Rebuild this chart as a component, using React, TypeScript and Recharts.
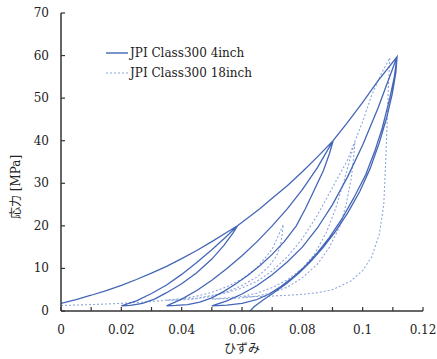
import React from 'react';
import { LineChart, Line, XAxis, YAxis, Legend } from 'recharts';

type Pt = [number, number];

// ---- tick values / labels ----
const xTicks = [0, 0.01, 0.02, 0.03, 0.04, 0.05, 0.06, 0.07, 0.08, 0.09, 0.1, 0.11, 0.12];
const xTickLabels = ['0', '', '0.02', '', '0.04', '', '0.06', '', '0.08', '', '0.1', '', '0.12'];
const yTicks = [0, 10, 20, 30, 40, 50, 60, 70];
const xTitle = 'ひずみ';
const yTitle = '応力 [MPa]';
const seriesNames = ['JPI Class300 4inch', 'JPI Class300 18inch'];

// ---- JPI Class300 4inch (strain, stress) branches ----
const s4Load20: Pt[] = [[0, 1.8], [0.005, 2.7], [0.01, 3.7], [0.015, 4.8], [0.02, 6.0], [0.025, 7.4], [0.03, 8.9], [0.035, 10.5], [0.04, 12.3], [0.045, 14.2], [0.05, 16.3], [0.055, 18.5], [0.0585, 20]];
const s4Unload20: Pt[] = [[0.057, 18.3], [0.054, 15.4], [0.05, 12.2], [0.045, 9.0], [0.04, 6.4], [0.035, 4.3], [0.031, 2.8], [0.027, 1.8], [0.023, 1.3], [0.02, 1.2]];
const s4Reload20: Pt[] = [[0.025, 2.4], [0.03, 4.1], [0.035, 6.1], [0.04, 8.6], [0.045, 11.4], [0.05, 14.4], [0.055, 17.6], [0.0585, 20]];
const s4Load40: Pt[] = [[0.062, 21.9], [0.066, 24.1], [0.07, 26.5], [0.075, 29.4], [0.08, 32.7], [0.085, 36.2], [0.0902, 40]];
const s4Unload40: Pt[] = [[0.089, 37], [0.087, 33], [0.084, 28.5], [0.081, 24], [0.078, 20], [0.074, 16.3], [0.07, 13.3], [0.066, 10.7], [0.062, 8.4], [0.058, 6.4], [0.054, 4.6], [0.05, 3.1], [0.046, 2.1], [0.042, 1.5], [0.038, 1.3], [0.035, 1.2]];
const s4Reload40: Pt[] = [[0.04, 2.8], [0.045, 4.8], [0.05, 7.2], [0.055, 10], [0.06, 13], [0.065, 16.3], [0.07, 20], [0.075, 24], [0.08, 28.5], [0.085, 33.7], [0.0902, 40]];
const s4Load60: Pt[] = [[0.095, 44.3], [0.1, 49], [0.105, 54], [0.1114, 59.7]];
const s4Unload60a: Pt[] = [[0.1105, 55], [0.109, 50], [0.1065, 43], [0.104, 37.5], [0.101, 32], [0.097, 26.5], [0.093, 21.5], [0.089, 17.3], [0.085, 13.7], [0.081, 10.6], [0.077, 8], [0.073, 5.8], [0.069, 4], [0.065, 2.7], [0.06, 1.8], [0.055, 1.4], [0.05, 1.2]];
const s4Reload60: Pt[] = [[0.055, 2.4], [0.06, 4], [0.065, 6], [0.07, 8.5], [0.075, 11.5], [0.08, 15], [0.085, 19.5], [0.09, 25], [0.095, 31.5], [0.1, 39], [0.105, 47.5], [0.1114, 59.7]];
const s4Unload60b: Pt[] = [[0.111, 56], [0.1098, 51], [0.108, 45.5], [0.1055, 39.5], [0.1025, 33.5], [0.099, 28], [0.095, 23], [0.091, 18.7], [0.087, 15], [0.083, 11.8], [0.079, 9], [0.075, 6.6], [0.071, 4.5], [0.067, 2.6], [0.064, 1], [0.0627, 0]];

// ---- JPI Class300 18inch (strain, stress) branches ----
const s18Load20: Pt[] = [[0, 1.3], [0.01, 1.5], [0.02, 1.8], [0.03, 2.2], [0.04, 2.9], [0.045, 3.5], [0.05, 4.4], [0.055, 5.7], [0.06, 7.5], [0.065, 10.2], [0.07, 14.5], [0.0737, 20.3]];
const s18Unload20: Pt[] = [[0.0733, 18], [0.0728, 15.5], [0.0715, 13], [0.069, 10.5], [0.065, 8], [0.06, 6], [0.055, 4.5], [0.05, 3.5], [0.045, 2.9], [0.04, 2.6], [0.035, 2.5]];
const s18Load40: Pt[] = [[0.045, 3.0], [0.055, 4.3], [0.06, 5.4], [0.065, 7.0], [0.07, 9.4], [0.075, 12.7], [0.08, 17], [0.085, 22.5], [0.09, 29], [0.095, 35.5], [0.0975, 40]];
const s18Unload40: Pt[] = [[0.097, 36], [0.0962, 31], [0.0945, 25], [0.0925, 20], [0.089, 15], [0.085, 11], [0.08, 7.8], [0.075, 5.6], [0.07, 4.3], [0.065, 3.5], [0.06, 3.1], [0.055, 2.9], [0.05, 2.8]];
const s18Reload40: Pt[] = [[0.06, 3.4], [0.065, 4.2], [0.07, 5.5], [0.075, 7.3], [0.08, 10], [0.084, 13.3], [0.088, 18.5], [0.091, 24], [0.094, 31], [0.0965, 37.5], [0.0975, 40]];
const s18Load60: Pt[] = [[0.1, 44.5], [0.103, 50.7], [0.106, 55.5], [0.109, 59.5]];
const s18Unload60: Pt[] = [[0.1085, 52], [0.108, 42], [0.1075, 33], [0.107, 25], [0.1055, 18], [0.103, 12.7], [0.1, 9.5], [0.096, 7], [0.09, 5], [0.085, 4.3], [0.08, 3.9], [0.07, 3.5], [0.06, 3.3]];

const toRows = (branches: Pt[][]) => branches.flat().map(([x, y]) => ({ x, y }));

const data4 = toRows([s4Load20, s4Unload20, s4Reload20, s4Load40, s4Unload40, s4Reload40, s4Load60, s4Unload60a, s4Reload60, s4Unload60b]);
const data18 = toRows([s18Load20, s18Unload20, s18Load40, s18Unload40, s18Reload40, s18Load60, s18Unload60]);

const FONT = '"DejaVu Serif", "Noto Sans CJK JP", serif';
const AXIS = '#333';
const C4 = '#4466b8';
const C18 = '#8ea7db';

const XTick = (props: any) => {
  const { x, y, payload } = props;
  const i = xTicks.indexOf(payload.value);
  const axisY = y - 8;
  return (
    <g>
      <line x1={x} x2={x} y1={axisY} y2={axisY - 4} stroke={AXIS} strokeWidth={1.2} />
      <text x={x} y={y + 15} textAnchor="middle" fontFamily={FONT} fontSize={12} fill="#222">
        {i >= 0 ? xTickLabels[i] : ''}
      </text>
    </g>
  );
};

const YTick = (props: any) => {
  const { x, y, payload } = props;
  const axisX = x + 12;
  return (
    <g>
      <line x1={axisX} x2={axisX + 4} y1={y} y2={y} stroke={AXIS} strokeWidth={1.2} />
      <text x={x} y={y + 4} textAnchor="end" fontFamily={FONT} fontSize={12} fill="#222">
        {payload.value}
      </text>
    </g>
  );
};

const XTitle = (props: any) => {
  const vb = props.viewBox || { x: 61, y: 311, width: 362, height: 30 };
  return (
    <text x={vb.x + vb.width / 2} y={vb.y + 42} textAnchor="middle" fontFamily={FONT} fontSize={12} fill="#222">
      {xTitle}
    </text>
  );
};

const YTitle = (props: any) => {
  const vb = props.viewBox || { x: 21, y: 13, width: 40, height: 298 };
  const cx = vb.x - 5;
  const cy = vb.y + vb.height / 2 + 25;
  return (
    <text x={cx} y={cy} transform={`rotate(-90 ${cx} ${cy})`} textAnchor="middle" dominantBaseline="central" fontFamily={FONT} fontSize={12} fill="#222">
      {yTitle}
    </text>
  );
};

const LegendBox = () => (
  <div style={{ fontFamily: FONT, fontSize: 12, color: '#222', lineHeight: '20px' }}>
    <div style={{ display: 'flex', alignItems: 'center' }}>
      <svg width={24} height={20}><line x1={0} x2={22} y1={10} y2={10} stroke={C4} strokeWidth={1.4} /></svg>
      <span>{seriesNames[0]}</span>
    </div>
    <div style={{ display: 'flex', alignItems: 'center' }}>
      <svg width={24} height={20}><line x1={0} x2={22} y1={10} y2={10} stroke={C18} strokeWidth={1.2} strokeDasharray="2 2" /></svg>
      <span>{seriesNames[1]}</span>
    </div>
  </div>
);

export default function App() {
  return (
    <div style={{ position: 'absolute', left: 0, top: 0, width: 437, height: 359, background: '#fff' }}>
      <LineChart width={437} height={359} margin={{ top: 13, right: 14, bottom: 18, left: 21 }}>
        <XAxis
          type="number"
          dataKey="x"
          domain={[0, 0.12]}
          ticks={xTicks}
          interval={0}
          allowDataOverflow
          tickLine={false}
          tickSize={0}
          tickMargin={8}
          height={30}
          stroke={AXIS}
          strokeWidth={1.5}
          tick={<XTick />}
          label={<XTitle />}
        />
        <YAxis
          type="number"
          dataKey="y"
          domain={[0, 70]}
          ticks={yTicks}
          interval={0}
          allowDataOverflow
          tickLine={false}
          tickSize={0}
          tickMargin={12}
          width={40}
          stroke={AXIS}
          strokeWidth={1.5}
          tick={<YTick />}
          label={<YTitle />}
        />
        <Legend
          layout="horizontal"
          verticalAlign="middle"
          align="center"
          content={<LegendBox />}
          wrapperStyle={{ position: 'absolute', left: 106, top: 43, width: 220, height: 44 }}
        />
        <Line data={data18} dataKey="y" name={seriesNames[1]} type="linear" stroke={C18} strokeWidth={1.1} strokeDasharray="2 2" dot={false} activeDot={false} isAnimationActive={false} />
        <Line data={data4} dataKey="y" name={seriesNames[0]} type="linear" stroke={C4} strokeWidth={1.3} dot={false} activeDot={false} isAnimationActive={false} />
      </LineChart>
    </div>
  );
}
